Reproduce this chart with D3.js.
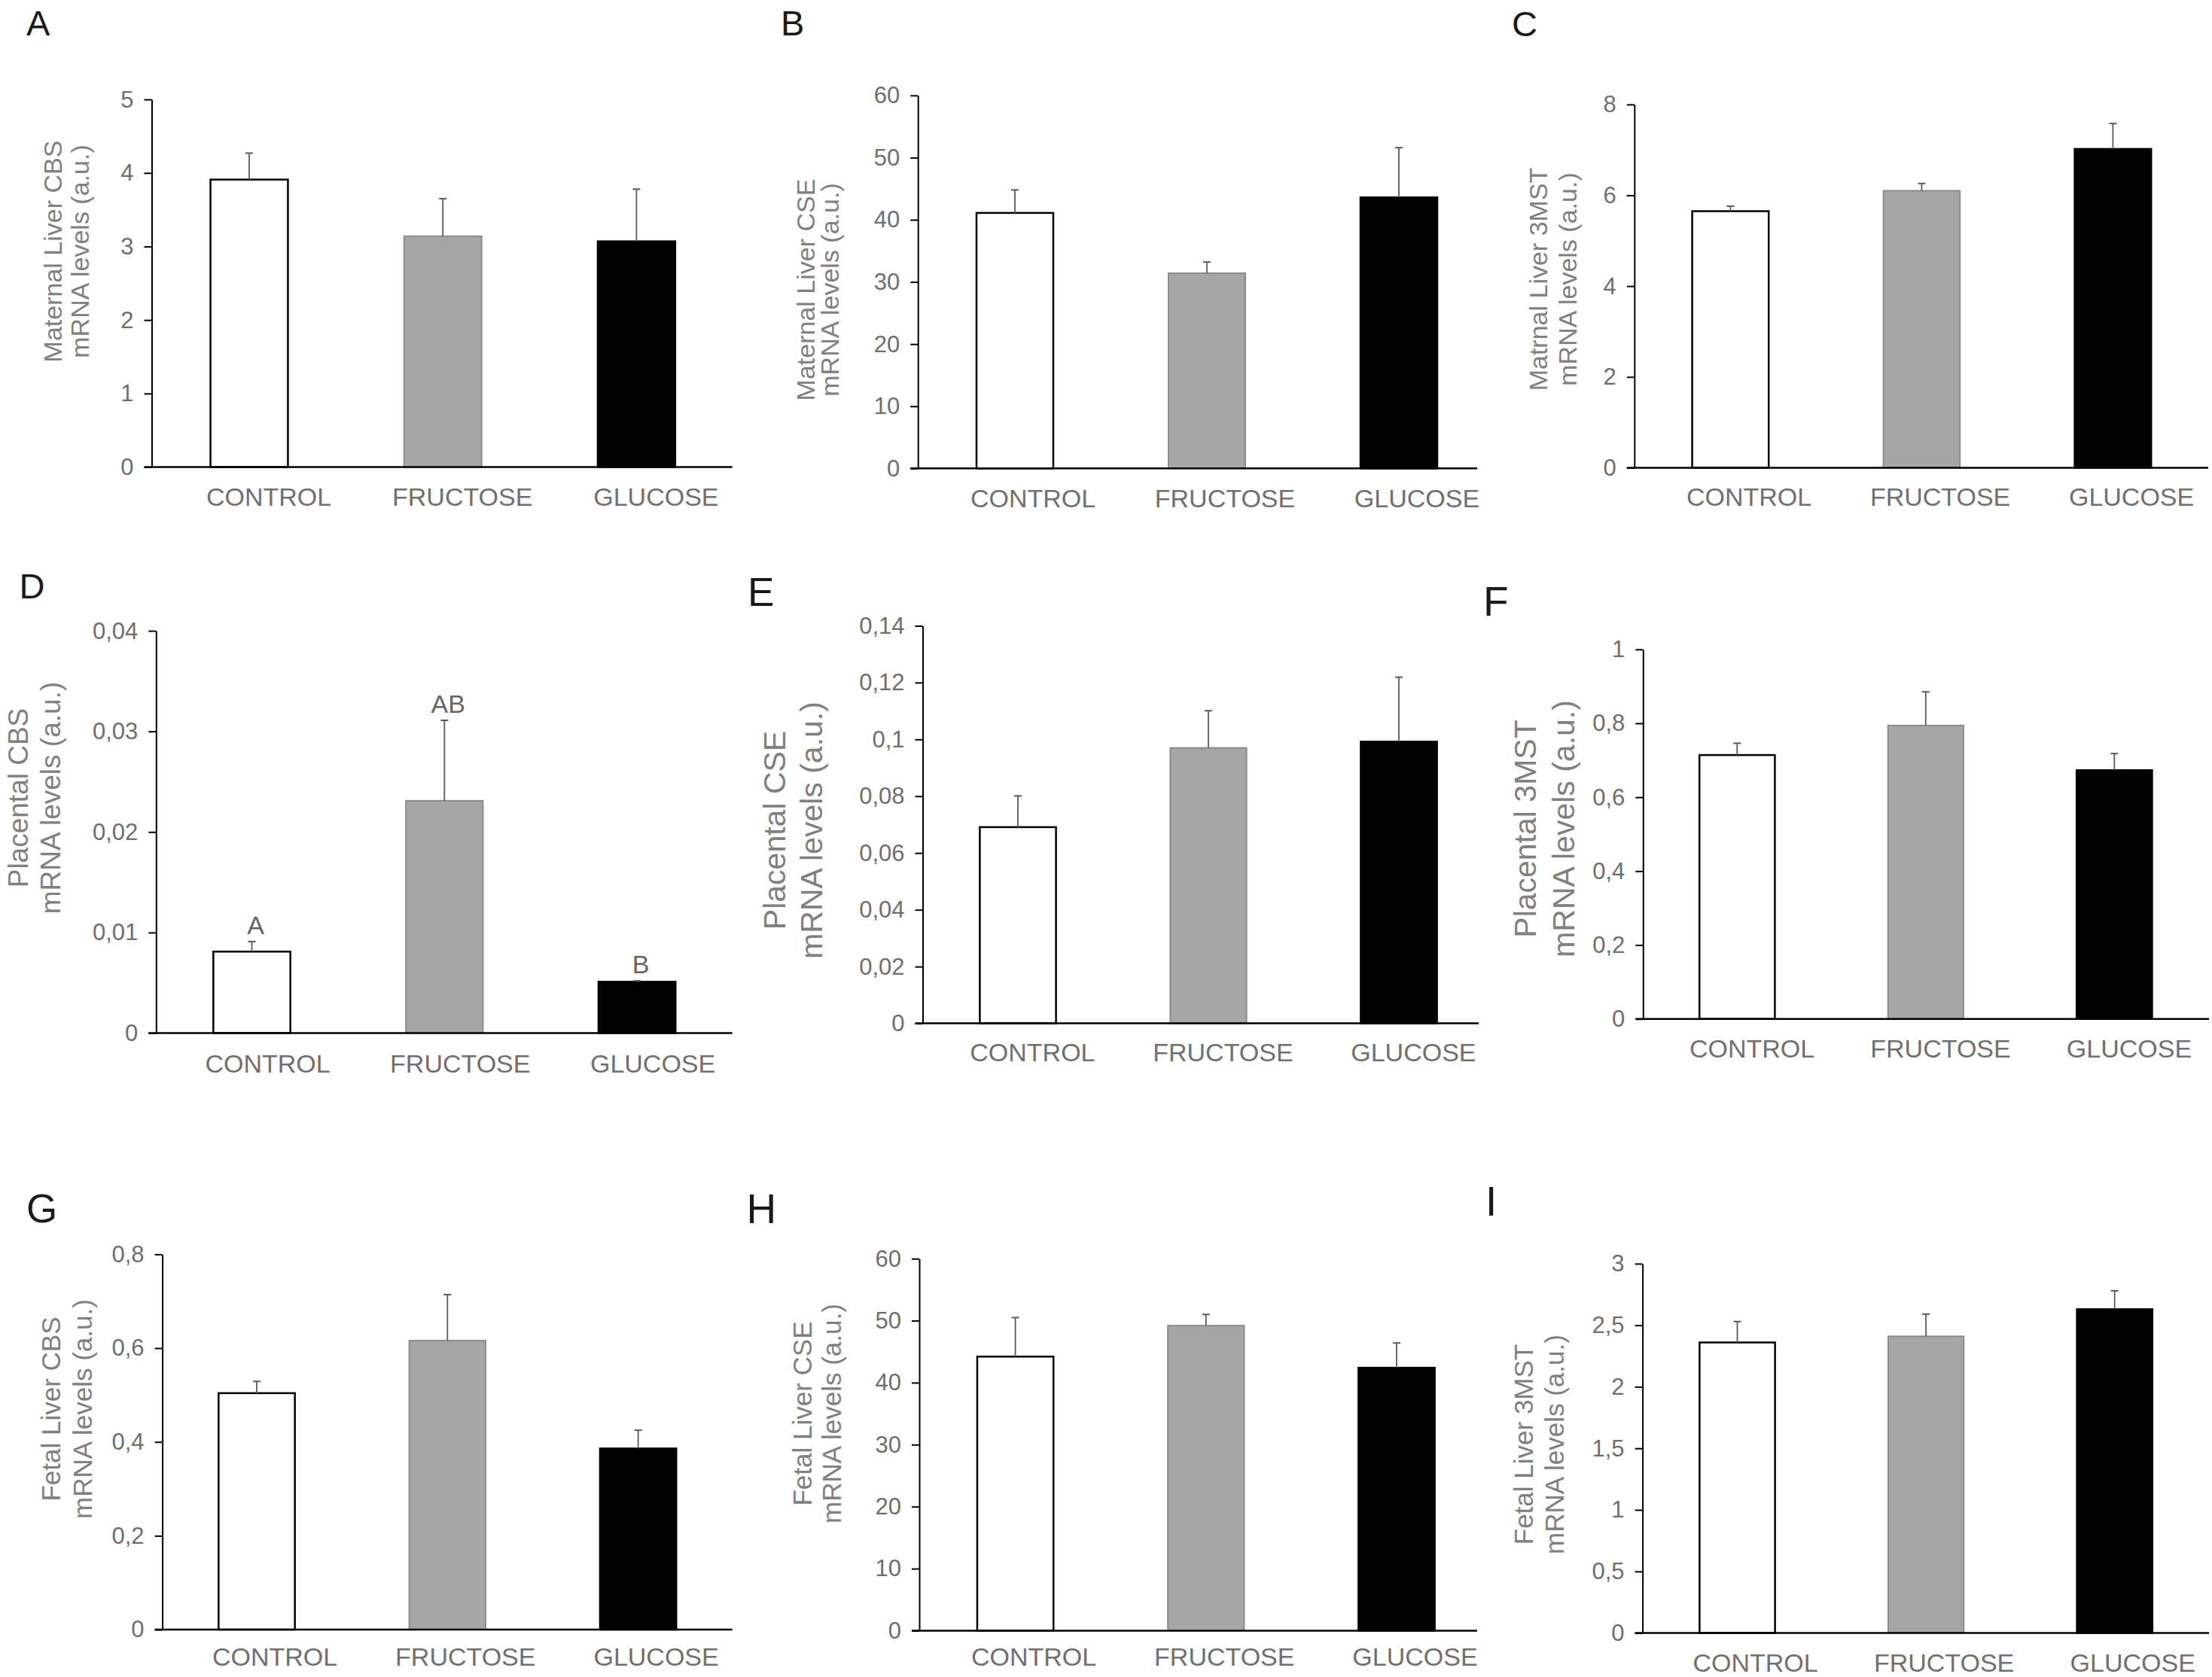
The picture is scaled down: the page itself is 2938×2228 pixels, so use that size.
<!DOCTYPE html>
<html>
<head>
<meta charset="utf-8">
<script src="https://cdn.jsdelivr.net/npm/d3@7"></script>
<style>
  body { margin: 0; background: #fff; }
  text { font-family: "Liberation Sans", Arial, Helvetica, sans-serif; }
</style>
</head>
<body>
<div id="figure"></div>
<script>

// gruplar
const categories = ['CONTROL', 'FRUCTOSE', 'GLUCOSE'];
const panelIds = ['A', 'B', 'C', 'D', 'E', 'F', 'G', 'H', 'I'];

const yLabelTop = [
    'Maternal Liver CBS', 'Maternal Liver CSE', 'Matrnal Liver 3MST',
    'Placental CBS', 'Placental CSE', 'Placental 3MST',
    'Fetal Liver CBS', 'Fetal Liver CSE', 'Fetal Liver 3MST'
];
const yLabelBottom = 'mRNA levels (a.u.)';

// ortalamalar (CONTROL, FRUCTOSE, GLUCOSE)
const meanA = [3.91, 3.14, 3.07];
const meanB = [41.1, 31.4, 43.6];
const meanC = [5.65, 6.10, 7.02];
const meanD = [0.0081, 0.0231, 0.0051];
const meanE = [0.0691, 0.0970, 0.0992];
const meanF = [0.714, 0.794, 0.673];
const meanG = [0.504, 0.616, 0.386];
const meanH = [44.2, 49.2, 42.4];
const meanI = [2.36, 2.41, 2.63];

// hata çubukları (SEM)
const semA = [0.36, 0.51, 0.71];
const semB = [3.7, 1.8, 8.0];
const semC = [0.11, 0.16, 0.56];
const semD = [0.0010, 0.0080, 0.0001];
const semE = [0.0110, 0.0131, 0.0227];
const semF = [0.032, 0.091, 0.045];
const semG = [0.025, 0.098, 0.039];
const semH = [6.3, 1.8, 4.0];
const semI = [0.17, 0.18, 0.15];

// eksen işaretleri
const ticksA = [0, 1, 2, 3, 4, 5];
const ticksB = [0, 10, 20, 30, 40, 50, 60];
const ticksC = [0, 2, 4, 6, 8];
const ticksD = [0, 0.01, 0.02, 0.03, 0.04];
const ticksE = [0, 0.02, 0.04, 0.06, 0.08, 0.1, 0.12, 0.14];
const ticksF = [0, 0.2, 0.4, 0.6, 0.8, 1];
const ticksG = [0, 0.2, 0.4, 0.6, 0.8];
const ticksH = [0, 10, 20, 30, 40, 50, 60];
const ticksI = [0, 0.5, 1, 1.5, 2, 2.5, 3];

// panel D istatistik harfleri
const sigD = ['A', 'AB', 'B'];

const means = [meanA, meanB, meanC, meanD, meanE, meanF, meanG, meanH, meanI];
const sems = [semA, semB, semC, semD, semE, semF, semG, semH, semI];
const ticks = [ticksA, ticksB, ticksC, ticksD, ticksE, ticksF, ticksG, ticksH, ticksI];

// sayfa yerleşimi (piksel)
// ax: y ekseni x, top/zero: eksen uçları, xEnd: x ekseni sonu, c0/step: çubuk merkezleri
const layout = [
    { ax: 201.5, top: 132.1, zero: 620.5, xEnd: 972.6, c0: 331, step: 257.2, ldx: 26, lby: 672, px: 35, py: 47, ps: 47, b1: 82, b2: 118, cy: 334, fs: 34 },
    { ax: 1219.2, top: 126.8, zero: 622.3, xEnd: 1962, c0: 1348, step: 255, ldx: 24, lby: 674, px: 1037, py: 47, ps: 47, b1: 1082, b2: 1114, cy: 385, fs: 34 },
    { ax: 2170.8, top: 138.8, zero: 621.4, xEnd: 2933, c0: 2298.4, step: 254, ldx: 24.7, lby: 672, px: 2008, py: 48, ps: 47, b1: 2055, b2: 2094, cy: 371, fs: 34 },
    { ax: 207.3, top: 838.1, zero: 1372.5, xEnd: 972.6, c0: 334.5, step: 255.8, ldx: 21, lby: 1425, px: 25.5, py: 795, ps: 47, b1: 37, b2: 80, cy: 1060, fs: 37 },
    { ax: 1225.5, top: 831.4, zero: 1359.6, xEnd: 1964, c0: 1352, step: 253, ldx: 19.4, lby: 1409.6, px: 993, py: 805, ps: 53, b1: 1042.5, b2: 1091.6, cy: 1103, fs: 41 },
    { ax: 2182.3, top: 862.7, zero: 1353.75, xEnd: 2934, c0: 2307.3, step: 250.5, ldx: 19.7, lby: 1405, px: 1970, py: 818, ps: 55, b1: 2040, b2: 2091, cy: 1101, fs: 41 },
    { ax: 215.6, top: 1666.4, zero: 2165, xEnd: 972.6, c0: 341, step: 253.3, ldx: 24, lby: 2213, px: 35, py: 1624, ps: 53, b1: 80.4, b2: 122.4, cy: 1872, fs: 35 },
    { ax: 1221, top: 1672.2, zero: 2166.4, xEnd: 1962, c0: 1348.6, step: 253.2, ldx: 24.5, lby: 2213, px: 991.5, py: 1625, ps: 55, b1: 1077.6, b2: 1117, cy: 1878, fs: 35 },
    { ax: 2181.6, top: 1678.9, zero: 2169.5, xEnd: 2934, c0: 2307.5, step: 250.6, ldx: 24, lby: 2221, px: 1973, py: 1615, ps: 55, b1: 2035.6, b2: 2077, cy: 1919, fs: 35 }
];

const fills = ['#ffffff', '#a6a6a6', '#000000'];
const strokes = ['#000000', '#8c8c8c', '#000000'];

// virgüllü ondalık
const locale = d3.formatLocale({ decimal: ',', thousands: '.', grouping: [3], currency: ['', ''] });
const fmt = locale.format('~g');

let svg = d3.select('#figure')
    .append('svg')
    .attr('width', 2938)
    .attr('height', 2228);

svg.append('rect').attr('width', 2938).attr('height', 2228).attr('fill', '#fff');

function drawPanel(i) {
    const L = layout[i];
    const maxV = ticks[i][ticks[i].length - 1];
    const g = svg.append('g');

    let y = d3.scaleLinear().domain([0, maxV]).range([L.zero, L.top]);

    // çubuk merkezleri c0 + k*step olacak şekilde
    let x = d3.scaleBand()
        .domain(categories)
        .range([L.c0 - L.step / 2, L.c0 + 2.5 * L.step])
        .paddingInner(0.6)
        .paddingOuter(0.3);

    let data = categories.map((c, k) => ({ cat: c, k: k, v: means[i][k], e: sems[i][k] }));

    // çubuklar
    g.selectAll('rect.bar')
        .data(data)
        .enter()
        .append('rect')
        .attr('class', 'bar')
        .attr('x', d => x(d.cat))
        .attr('width', x.bandwidth())
        .attr('y', d => y(d.v))
        .attr('height', d => y(0) - y(d.v))
        .attr('fill', d => fills[d.k])
        .attr('stroke', d => strokes[d.k])
        .attr('stroke-width', d => d.k === 1 ? 2 : 2.5);

    // hata çubukları (sadece yukarı)
    let eb = g.selectAll('g.err').data(data).enter().append('g').attr('class', 'err');
    eb.append('line')
        .attr('x1', d => x(d.cat) + x.bandwidth() / 2)
        .attr('x2', d => x(d.cat) + x.bandwidth() / 2)
        .attr('y1', d => y(d.v))
        .attr('y2', d => y(d.v + d.e))
        .attr('stroke', '#5a5a5a')
        .attr('stroke-width', 1.8);
    eb.append('line')
        .attr('x1', d => x(d.cat) + x.bandwidth() / 2 - 5)
        .attr('x2', d => x(d.cat) + x.bandwidth() / 2 + 5)
        .attr('y1', d => y(d.v + d.e))
        .attr('y2', d => y(d.v + d.e))
        .attr('stroke', '#5a5a5a')
        .attr('stroke-width', 2);

    // y ekseni
    let yAxis = d3.axisLeft(y)
        .tickValues(ticks[i])
        .tickFormat(fmt)
        .tickSize(10)
        .tickSizeOuter(0)
        .tickPadding(14);

    let ax = g.append('g')
        .attr('transform', `translate(${L.ax},0)`)
        .call(yAxis);
    ax.select('.domain').attr('stroke', '#000').attr('stroke-width', 2);
    ax.selectAll('.tick line').attr('stroke', '#000').attr('stroke-width', 2);
    ax.selectAll('.tick text')
        .attr('fill', '#6e6e6e')
        .style('font-size', '31px')
        .style('font-family', '"Liberation Sans", Arial, sans-serif');

    // x ekseni çizgisi
    g.append('line')
        .attr('x1', L.ax - 10)
        .attr('x2', L.xEnd)
        .attr('y1', y(0))
        .attr('y2', y(0))
        .attr('stroke', '#000')
        .attr('stroke-width', 2.5);

    // kategori etiketleri
    g.selectAll('text.cat')
        .data(data)
        .enter()
        .append('text')
        .attr('class', 'cat')
        .attr('x', d => x(d.cat) + x.bandwidth() / 2 + L.ldx)
        .attr('y', L.lby)
        .attr('text-anchor', 'middle')
        .attr('fill', '#707070')
        .style('font-size', '34px')
        .text(d => d.cat);

    // y etiketi (iki satır)
    g.append('text')
        .attr('transform', `translate(${L.b1},${L.cy}) rotate(-90)`)
        .attr('text-anchor', 'middle')
        .attr('fill', '#808080')
        .style('font-size', L.fs + 'px')
        .text(yLabelTop[i]);
    g.append('text')
        .attr('transform', `translate(${L.b2},${L.cy}) rotate(-90)`)
        .attr('text-anchor', 'middle')
        .attr('fill', '#808080')
        .style('font-size', L.fs + 'px')
        .text(yLabelBottom);

    // panel harfi
    g.append('text')
        .attr('x', L.px)
        .attr('y', L.py)
        .attr('fill', '#1a1a1a')
        .style('font-size', L.ps + 'px')
        .text(panelIds[i]);

    // sadece D panelinde harfler
    if (panelIds[i] === 'D') {
        g.selectAll('text.sig')
            .data(data)
            .enter()
            .append('text')
            .attr('class', 'sig')
            .attr('x', d => x(d.cat) + x.bandwidth() / 2 + 5)
            .attr('y', d => y(d.v + d.e) - 10)
            .attr('text-anchor', 'middle')
            .attr('fill', '#666')
            .style('font-size', '34px')
            .text(d => sigD[d.k]);
    }
}

for (let i = 0; i < panelIds.length; i++) {
    drawPanel(i);
}

</script>
</body>
</html>
